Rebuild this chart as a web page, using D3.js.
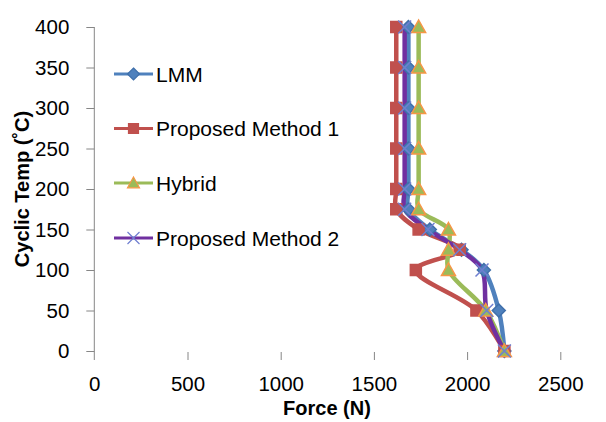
<!DOCTYPE html>
<html><head><meta charset="utf-8">
<script src="https://d3js.org/d3.v7.min.js"></script>
<style>body{margin:0;background:#fff}svg{display:block}text{font-family:"Liberation Sans",Arial,sans-serif}</style>
</head><body><svg id="c" width="606" height="422"></svg>
<script>
const temps = [0, 50, 100, 125, 150, 175, 200, 250, 300, 350, 400];
const lmm = [2200, 2170, 2090, 1970, 1800, 1685, 1685, 1685, 1685, 1685, 1685];
const pm1 = [2200, 2050, 1725, 1960, 1740, 1620, 1620, 1620, 1620, 1620, 1620];
const hybrid = [2200, 2100, 1900, 1900, 1900, 1740, 1740, 1740, 1740, 1740, 1740];
const pm2 = [2200, 2105, 2080, 1960, 1790, 1665, 1665, 1665, 1665, 1665, 1665];
const seriesNames = ["LMM", "Proposed Method 1", "Hybrid", "Proposed Method 2"];
const xTicks = [0, 500, 1000, 1500, 2000, 2500];
const yTicks = [0, 50, 100, 150, 200, 250, 300, 350, 400];

const svg = d3.select("#c");
const x = d3.scaleLinear().domain([0, 2500]).range([94.3, 560.3]);
const y = d3.scaleLinear().domain([0, 400]).range([351, 27]);
const axisCol = "#868686";

// y axis
const ya = svg.append("g").attr("transform", "translate(94.3,0)")
  .call(d3.axisLeft(y).tickValues(yTicks).tickSize(8).tickPadding(17).tickFormat(d3.format("d")));
ya.select(".domain").attr("d", `M0,${y(400)}V${y(0) + 9}`).attr("stroke", axisCol);
ya.selectAll(".tick line").attr("stroke", axisCol);
ya.selectAll(".tick text").attr("font-size", 20.5).attr("fill", "#000").style("font-family", "Liberation Sans, Arial");

// x axis (no line, ticks only)
const xa = svg.append("g").attr("transform", `translate(0,${y(0) + 1})`)
  .call(d3.axisBottom(x).tickValues(xTicks).tickSize(8).tickPadding(16).tickFormat(d3.format("d")));
xa.select(".domain").remove();
xa.selectAll(".tick line").attr("stroke", axisCol).filter(d => d === 0).remove();
xa.selectAll(".tick text").attr("font-size", 20.5).attr("fill", "#000").style("font-family", "Liberation Sans, Arial");

// titles
svg.append("text").attr("x", 327).attr("y", 415).attr("text-anchor", "middle")
  .attr("font-size", 20).attr("font-weight", "bold").text("Force (N)");
svg.append("text").attr("transform", "translate(29,189) rotate(-90)").attr("text-anchor", "middle")
  .attr("font-size", 20).attr("font-weight", "bold").text("Cyclic Temp (˚C)");

const series = [
  {name: seriesNames[0], vals: lmm, color: "#4F81BD", marker: "diamond", mfill: "#4F81BD", mstroke: "#3F6FAA"},
  {name: seriesNames[1], vals: pm1, color: "#C0504D", marker: "square", mfill: "#C0504D", mstroke: "#C0504D"},
  {name: seriesNames[2], vals: hybrid, color: "#9BBB59", marker: "triangle", mfill: "#9BBB59", mstroke: "#F79646"},
  {name: seriesNames[3], vals: pm2, color: "#7030A0", marker: "x", mfill: "none", mstroke: "#6F7FD0"}
];

function markerPath(type, s) {
  const h = s / 2;
  if (type === "diamond") return `M0,${-h}L${h},0L0,${h}L${-h},0Z`;
  if (type === "square") return `M${-h},${-h}H${h}V${h}H${-h}Z`;
  if (type === "triangle") return `M0,${-h}L${h},${h * 0.8}L${-h},${h * 0.8}Z`;
  return `M${-h},${-h}L${h},${h}M${-h},${h}L${h},${-h}`;
}

const line = d3.line().x(d => x(d.f)).y(d => y(d.t)).curve(d3.curveCatmullRom.alpha(0.5));

series.forEach(s => {
  const pts = temps.map((t, i) => ({t: t, f: s.vals[i]}));
  svg.append("path").datum(pts).attr("d", line).attr("fill", "none")
    .attr("stroke", s.color).attr("stroke-width", 4.5).attr("stroke-linejoin", "round");
  s.pts = pts;
});
series.forEach(s => {
  const size = s.marker === "square" ? 11 : (s.marker === "triangle" ? 14 : 13);
  svg.append("g").selectAll("path").data(s.pts).join("path")
    .attr("transform", d => `translate(${x(d.f)},${y(d.t)})`)
    .attr("d", markerPath(s.marker, size))
    .attr("fill", s.mfill).attr("stroke", s.mstroke)
    .attr("stroke-width", 1.5);
});

// legend
const legY = [74, 128.5, 183, 238];
series.forEach((s, i) => {
  const g = svg.append("g").attr("transform", `translate(0,${legY[i]})`);
  g.append("line").attr("x1", 114).attr("x2", 153).attr("y1", 0).attr("y2", 0)
    .attr("stroke", s.color).attr("stroke-width", 3);
  const size = s.marker === "square" ? 10 : 12;
  g.append("path").attr("transform", "translate(133.5,0)").attr("d", markerPath(s.marker, size))
    .attr("fill", s.mfill).attr("stroke", s.mstroke).attr("stroke-width", 1.2);
  g.append("text").attr("x", 156).attr("y", 0).attr("dy", "0.36em")
    .attr("font-size", 21).attr("fill", "#000").text(s.name);
});
</script></body></html>
